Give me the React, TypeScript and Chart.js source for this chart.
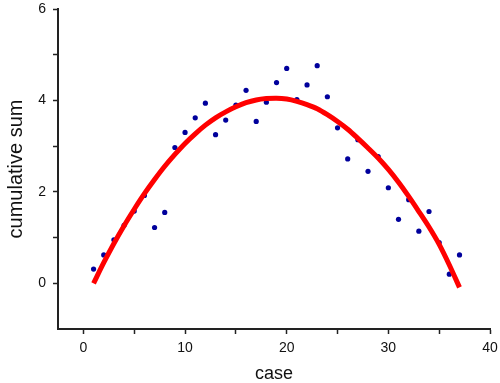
import React, { useEffect, useRef } from "react";
import { Chart, registerables } from "chart.js";

Chart.register(...registerables);

const caseX: number[] = [1,2,3,4,5,6,7,8,9,10,11,12,13,14,15,16,17,18,19,20,21,22,23,24,25,26,27,28,29,30,31,32,33,34,35,36,37];
const cumSum: number[] = [0.31,0.62,0.95,1.27,1.58,1.92,1.22,1.55,2.97,3.30,3.62,3.94,3.25,3.57,3.90,4.22,3.54,3.96,4.39,4.70,4.02,4.34,4.76,4.08,3.40,2.72,3.14,2.45,2.77,2.09,1.40,1.83,1.14,1.57,0.89,0.20,0.62];
const fitY: number[] = [0.00,0.45,0.87,1.26,1.62,1.96,2.27,2.56,2.82,3.06,3.27,3.46,3.62,3.75,3.86,3.95,4.01,4.04,4.05,4.03,3.98,3.91,3.82,3.69,3.54,3.37,3.17,2.96,2.74,2.49,2.21,1.90,1.57,1.23,0.85,0.40,-0.09];
const xTicks: number[] = [0,5,10,15,20,25,30,35,40];
const yTicks: number[] = [0,1,2,3,4,5,6];

const FONT = '"Liberation Sans", Arial, sans-serif';

export default function App() {
  const ref = useRef<HTMLCanvasElement | null>(null);
  useEffect(() => {
    if (!ref.current) return;
    const chart = new Chart(ref.current, {
      type: "scatter",
      data: {
        datasets: [
          {
            type: "line",
            label: "fit",
            data: caseX.map((x, i) => ({ x, y: fitY[i] })),
            borderColor: "#ff0000",
            borderWidth: 5,
            pointRadius: 0,
            tension: 0.3,
            fill: false,
            order: 0,
          } as any,
          {
            type: "scatter",
            label: "data",
            data: caseX.map((x, i) => ({ x, y: cumSum[i] })),
            backgroundColor: "#00009c",
            borderWidth: 0,
            pointRadius: 2.6,
            order: 1,
          } as any,
        ],
      },
      options: {
        animation: false,
        responsive: false,
        layout: { padding: 0 },
        plugins: { legend: { display: false }, tooltip: { enabled: false } },
        scales: {
          x: {
            type: "linear",
            min: -2.5,
            max: 40,
            afterBuildTicks: (s: any) => { s.ticks = xTicks.map((v) => ({ value: v })); },
            afterFit: (s: any) => { s.height = 54; s.paddingLeft = 0; s.paddingRight = 10; },
            ticks: {
              callback: (v: any) => (Number(v) % 10 === 0 ? String(v) : ""),
              font: { family: FONT, size: 14 },
              color: "#111",
              padding: 6,
              maxRotation: 0,
              autoSkip: false,
            },
            grid: { display: true, drawOnChartArea: false, drawTicks: true, tickLength: 5, tickColor: "#222", tickWidth: 1.5 },
            border: { display: true, color: "#222", width: 2 },
            title: { display: true, text: "case", font: { family: FONT, size: 18, lineHeight: 1.0 }, color: "#111", padding: { top: 0, bottom: 0 } },
          },
          y: {
            type: "linear",
            min: -1,
            max: 6,
            afterBuildTicks: (s: any) => { s.ticks = yTicks.map((v) => ({ value: v })); },
            afterFit: (s: any) => { s.width = 58; s.paddingTop = 9; s.paddingBottom = 0; },
            ticks: {
              callback: (v: any) => (Number(v) % 2 === 0 ? String(v) : ""),
              font: { family: FONT, size: 14 },
              color: "#111",
              padding: 7,
              autoSkip: false,
            },
            grid: { display: true, drawOnChartArea: false, drawTicks: true, tickLength: 5, tickColor: "#222", tickWidth: 1.5 },
            border: { display: true, color: "#222", width: 2 },
            title: { display: true, text: "cumulative sum", font: { family: FONT, size: 20 }, color: "#111", padding: { top: 4, bottom: 4 } },
          },
        },
      },
    });
    return () => chart.destroy();
  }, []);
  return (
    <div style={{ position: "absolute", left: 0, top: 0, width: 500, height: 383 }}>
      <canvas ref={ref} width={500} height={383} />
    </div>
  );
}
